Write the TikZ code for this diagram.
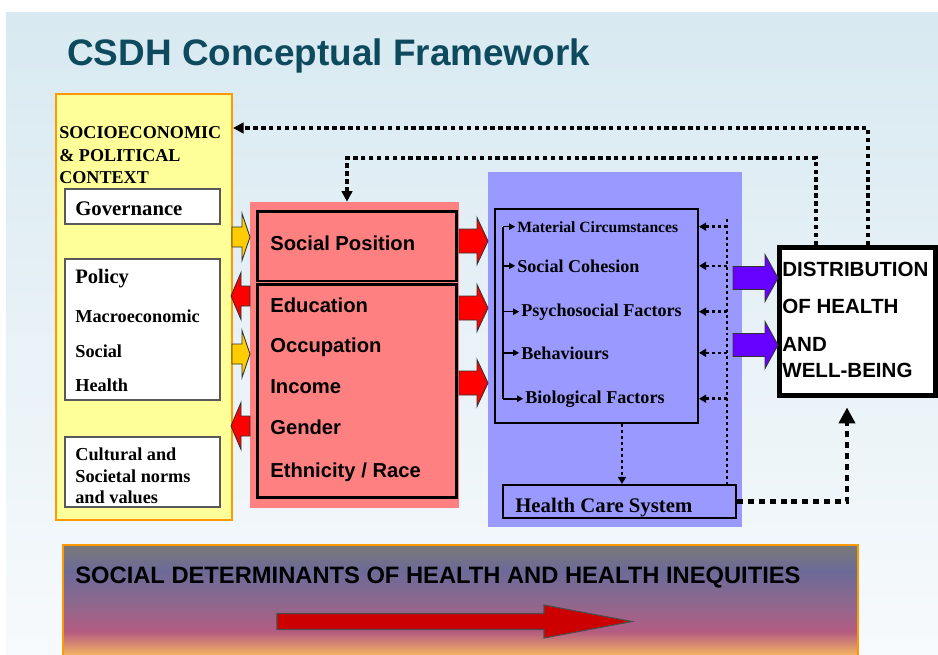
\documentclass[tikz,border=0pt]{standalone}
\usepackage{fontspec}
\setmainfont{Liberation Serif}
\setsansfont{Liberation Sans}
\usetikzlibrary{arrows.meta,calc}

\definecolor{bgtop}{RGB}{216,233,241}
\definecolor{bgbottom}{RGB}{247,250,252}
\definecolor{titleteal}{RGB}{14,74,94}
\definecolor{ctxyellow}{HTML}{FFFF99}
\definecolor{ctxorange}{HTML}{FF9900}
\definecolor{pospink}{HTML}{FF8080}
\definecolor{intblue}{HTML}{9999FF}
\definecolor{arrowred}{HTML}{FF0000}
\definecolor{arrowyellow}{HTML}{FFCC00}
\definecolor{arrowpurple}{HTML}{6600FF}
\definecolor{darkred}{HTML}{CC0000}
\definecolor{bngray}{RGB}{120,120,122}
\definecolor{bnviolet}{RGB}{108,106,152}
\definecolor{bnmauve}{RGB}{140,104,142}
\definecolor{bnpink}{RGB}{180,92,130}
\definecolor{bnorange}{RGB}{255,195,90}

\pgfdeclareverticalshading{bannershade}{100bp}{color(0bp)=(bnorange); color(26bp)=(bnorange);
  color(38bp)=(bnpink); color(51bp)=(bnmauve); color(64bp)=(bnviolet);
  color(74bp)=(bngray); color(100bp)=(bngray)}

% fat arrow: [style]{tail x}{head x}{tip x}{y}{half shaft}{half head}
\newcommand{\blockarrow}[7][]{%
  \draw[#1] (#2,#5-#6) -- (#3,#5-#6) -- (#3,#5-#7) -- (#4,#5)
    -- (#3,#5+#7) -- (#3,#5+#6) -- (#2,#5+#6) -- cycle;}

\begin{document}
\begin{tikzpicture}[
        x=0.02cm, y=-0.02cm,
        panel/.style={
            rectangle,
            inner sep=0pt
        },
        frame/.style={
            draw,
            rectangle,
            inner sep=0pt
        },
        ctxitem/.style={
            frame,
            draw=black!65,
            line width=0.6pt,
            fill=white,
            minimum width=3.1cm
        },
        word/.style={anchor=base west, inner sep=0pt},
        serifword/.style={word, font=\bfseries\fontsize{#1}{#1}\selectfont},
        sansword/.style={word, font=\sffamily\bfseries\fontsize{#1}{#1}\selectfont},
        fback/.style={
            line width=1.9pt,
            dash pattern=on 2.5pt off 2pt,
            -{Triangle[length=6pt,width=6pt]}
        },
        fbsmall/.style={
            line width=1.4pt,
            dash pattern=on 1.7pt off 1.7pt,
            -{Triangle[length=4pt,width=4.5pt]}
        },
        fbcare/.style={
            line width=2.8pt,
            dash pattern=on 3.4pt off 2.8pt,
            -{Triangle[length=9pt,width=9pt]}
        },
        tick/.style={line width=0.9pt, -{Triangle[length=3.5pt,width=3.5pt]}},
        blockout/.style={draw=black!80, line width=0.5pt}
    ]

    \useasboundingbox (0,0) rectangle (938,654);
    \clip (0,0) rectangle (938,654);
    \fill[white] (0,0) rectangle (938,654);
    \shade[top color=bgtop, bottom color=bgbottom] (6,12) rectangle (938,654);

    \node[sansword=21, text=titleteal] (title) at (67,65) {CSDH Conceptual Framework};

    % socioeconomic and political context
    \node[panel, draw=ctxorange, line width=1.2pt, fill=ctxyellow,
          minimum width=3.52cm, minimum height=8.52cm] (context) at (144,307) {};
    \foreach \yy/\txt in {138/SOCIOECONOMIC, 161/\& POLITICAL, 183/CONTEXT}
        \node[serifword=10.3] (ctx-\yy) at (59,\yy) {\txt};

    \node[ctxitem, minimum height=0.7cm] (governance) at (142.5,206.5) {};
    \node[serifword=11.8] (govtext) at (75,215) {Governance};

    \node[ctxitem, minimum height=2.82cm] (policy) at (142.5,329.5) {};
    \node[serifword=11.7] (policyhead) at (75,283) {Policy};
    \foreach \yy/\txt in {322/Macroeconomic, 357/Social, 391/Health}
        \node[serifword=10.4] (policy-\txt) at (75,\yy) {\txt};

    \node[ctxitem, minimum height=1.4cm] (culture) at (142.5,472) {};
    \foreach \yy/\txt in {460/Cultural and, 482/Societal norms, 503/and values}
        \node[serifword=10.4] (culture-\yy) at (75,\yy) {\txt};

    % social position
    \node[panel, fill=pospink, minimum width=4.18cm, minimum height=6.12cm] (position) at (354.5,355) {};
    \node[frame, line width=1.7pt, minimum width=4cm, minimum height=1.4cm] (socpos) at (357,246) {};
    \node[sansword=11.5] (socpostext) at (270,250) {Social Position};
    \node[frame, line width=1.7pt, minimum width=4cm, minimum height=4.28cm] (strata) at (357,391) {};
    \foreach \yy/\txt in {312/Education, 352/Occupation, 393/Income, 434/Gender, 477/{Ethnicity / Race}}
        \node[sansword=11.5] (strata-\yy) at (270,\yy) {\txt};

    % intermediary determinants
    \node[panel, fill=intblue, minimum width=5.08cm, minimum height=7.1cm] (interm) at (615,349.5) {};
    \node[frame, line width=1.2pt, minimum width=4.06cm, minimum height=4.28cm] (circ) at (596.5,316) {};
    \node[serifword=8.9] (material) at (517,232) {Material Circumstances};
    \node[serifword=10.3] (cohesion) at (517,272) {Social Cohesion};
    \node[serifword=10.3] (psycho) at (521,316) {Psychosocial Factors};
    \node[serifword=10.3] (behaviour) at (521,359) {Behaviours};
    \node[serifword=10.3] (biology) at (525,403) {Biological Factors};
    \node[frame, line width=1.2pt, minimum width=4.66cm, minimum height=0.66cm] (hcs) at (619.5,501.5) {};
    \node[serifword=11.8] (hcstext) at (515,512) {Health Care System};

    \coordinate (bracket) at (503,226);
    \draw[line width=0.9pt] (bracket |- material.west) -- (bracket |- biology.west);
    \foreach \n in {material,cohesion,psycho,behaviour,biology}
        \draw[tick] (bracket |- \n.west) -- ([xshift=-1pt]\n.west);

    \coordinate (spine) at (727,219);
    \draw[fbsmall, -] (spine) -- (spine |- hcs.north);
    \foreach \n in {material,cohesion,psycho,behaviour,biology}
        \draw[fbsmall] (spine |- \n.west) -- (circ.east |- \n.west);
    \draw[fbsmall] (circ.south -| 622,0) -- (hcs.north -| 622,0);

    % distribution of health
    \node[frame, fill=white, line width=2.8pt, minimum width=3.12cm, minimum height=2.96cm] (outcome) at (857.5,321.5) {};
    \foreach \yy/\txt in {276/DISTRIBUTION, 313/OF HEALTH, 351/AND, 377/WELL-BEING}
        \node[sansword=11.7] (outcome-\yy) at (782,\yy) {\txt};

    % fat arrows between the columns
    \blockarrow[blockout, fill=arrowyellow]{232}{242}{250}{237}{10}{23.5}
    \blockarrow[blockout, fill=arrowyellow]{232}{242}{250}{354}{10}{23.5}
    \blockarrow[blockout, fill=arrowred]{250}{241}{231}{296}{10}{23.5}
    \blockarrow[blockout, fill=arrowred]{250}{241}{231}{426}{10}{23.5}
    \foreach \yy in {241,308,383}
        {\blockarrow[blockout, fill=arrowred]{459}{477}{488}{\yy}{12}{23.5}}
    \foreach \yy in {278,345}
        {\blockarrow[blockout, fill=arrowpurple]{733}{765}{778}{\yy}{11.5}{23.5}}

    % feedback loops
    \draw[fback] ($(outcome.north)+(10.5,0)$) |- (context.east |- 0,128);
    \draw[fback] ($(outcome.north)+(-41.5,0)$) |- (347,158) -- (position.north -| 347,0);
    \draw[fbcare] (hcs.east) -| ($(outcome.south)+(-10.5,9.5)$);

    % bottom banner
    \shadedraw[shading=bannershade, draw=ctxorange, line width=1.2pt] (63,545) rectangle (858,662);
    \node[sansword=13.5] (sdh) at (75,583) {SOCIAL DETERMINANTS OF HEALTH AND HEALTH INEQUITIES};
    \blockarrow[draw=black!70, line width=0.6pt, fill=darkred]{277}{544}{632}{621.5}{8}{16.5}

\end{tikzpicture}
\end{document}
